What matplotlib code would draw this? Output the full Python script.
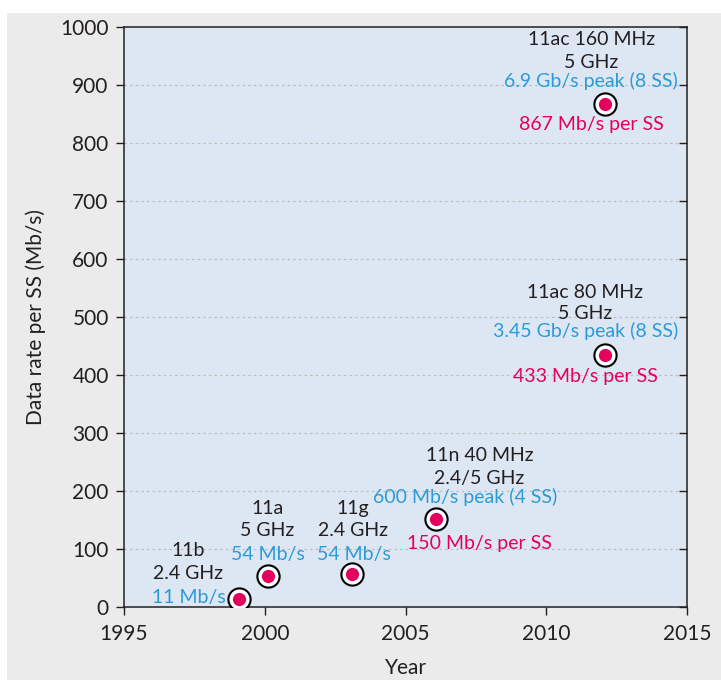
import matplotlib.pyplot as plt
from matplotlib.patches import Rectangle

# Data: WLAN standards, year of introduction and per-stream data rate
years = [1999.1, 2000.1, 2003.1, 2006.1, 2012.1, 2012.1]
rates = [13, 54, 57, 152, 434, 868]
names = ['11b', '11a', '11g', '11n 40 MHz', '11ac 80 MHz', '11ac 160 MHz']
bands = ['2.4 GHz', '5 GHz', '2.4 GHz', '2.4/5 GHz', '5 GHz', '5 GHz']
peaks = ['11 Mb/s', '54 Mb/s', '54 Mb/s', '600 Mb/s peak (4 SS)',
         '3.45 Gb/s peak (8 SS)', '6.9 Gb/s peak (8 SS)']
per_ss = ['', '', '', '150 Mb/s per SS', '433 Mb/s per SS', '867 Mb/s per SS']

# label offsets in pixels from the point
name_off = [(-51, 49), (0, 67), (1, 65), (43, 63), (-20, 63), (-14, 64)]
band_off = [(-51, 26), (0, 45), (1, 43), (43, 40), (-20, 42), (-14, 41)]
peak_off = [(-51, 2), (0, 21), (2, 19), (29, 22), (-20, 24), (-14, 23)]
ss_off = [(0, 0), (0, 0), (0, 0), (43, -25), (-20, -21), (-14, -21)]

BLUE = '#2b9bd8'
RED = '#e4005d'
DARK = '#231f20'
FS = 14

plt.rcParams['font.family'] = ['Lato', 'DejaVu Sans']

fig = plt.figure(figsize=(7.21, 6.80), dpi=100)
fig.patch.set_facecolor('white')
fig.patches.append(Rectangle((7 / 721, 0), 1, 1 - 13 / 680, transform=fig.transFigure,
                             facecolor='#ebebeb', edgecolor='none', zorder=-10))

ax = fig.add_axes([124 / 721, 1 - 607 / 680, 563 / 721, 580 / 680])
ax.set_facecolor('#dde7f3')
ax.set_xlim(1995, 2015)
ax.set_ylim(0, 1000)
ax.set_xticks(range(1995, 2016, 5))
ax.set_yticks(range(0, 1001, 100))
for y in range(100, 1000, 100):
    ax.axhline(y, color='#bdbdbd', lw=0.9, ls=(0, (2, 2.5)), zorder=1)

ax.tick_params(axis='both', labelsize=15, colors=DARK, direction='out', length=6, width=1)
ax.tick_params(axis='y', right=True, which='both', pad=5)
ax.tick_params(axis='x', pad=6)
for t in ax.yaxis.get_ticklines()[1::2]:
    t.set_marker(0)
for s in ax.spines.values():
    s.set_color(DARK)
    s.set_linewidth(1.1)

ax.set_xlabel('Year', fontsize=15, color=DARK, labelpad=10)
ax.set_ylabel('Data rate per SS (Mb/s)', fontsize=15, color=DARK, labelpad=10)

ax.plot(years, rates, 'o', ms=16, mfc='white', mec='black', mew=1.5, ls='none', zorder=3)
ax.plot(years, rates, 'o', ms=9.5, mfc=RED, mec='none', ls='none', zorder=4)

for i in range(len(years)):
    xy = (years[i], rates[i])
    ax.annotate(names[i], xy, xytext=name_off[i], textcoords='offset pixels',
                ha='center', va='center', fontsize=FS, color=DARK)
    ax.annotate(bands[i], xy, xytext=band_off[i], textcoords='offset pixels',
                ha='center', va='center', fontsize=FS, color=DARK)
    ax.annotate(peaks[i], xy, xytext=peak_off[i], textcoords='offset pixels',
                ha='center', va='center', fontsize=FS, color=BLUE)
    if per_ss[i]:
        ax.annotate(per_ss[i], xy, xytext=ss_off[i], textcoords='offset pixels',
                    ha='center', va='center', fontsize=FS, color=RED)

fig.savefig('out.png', dpi=100)
